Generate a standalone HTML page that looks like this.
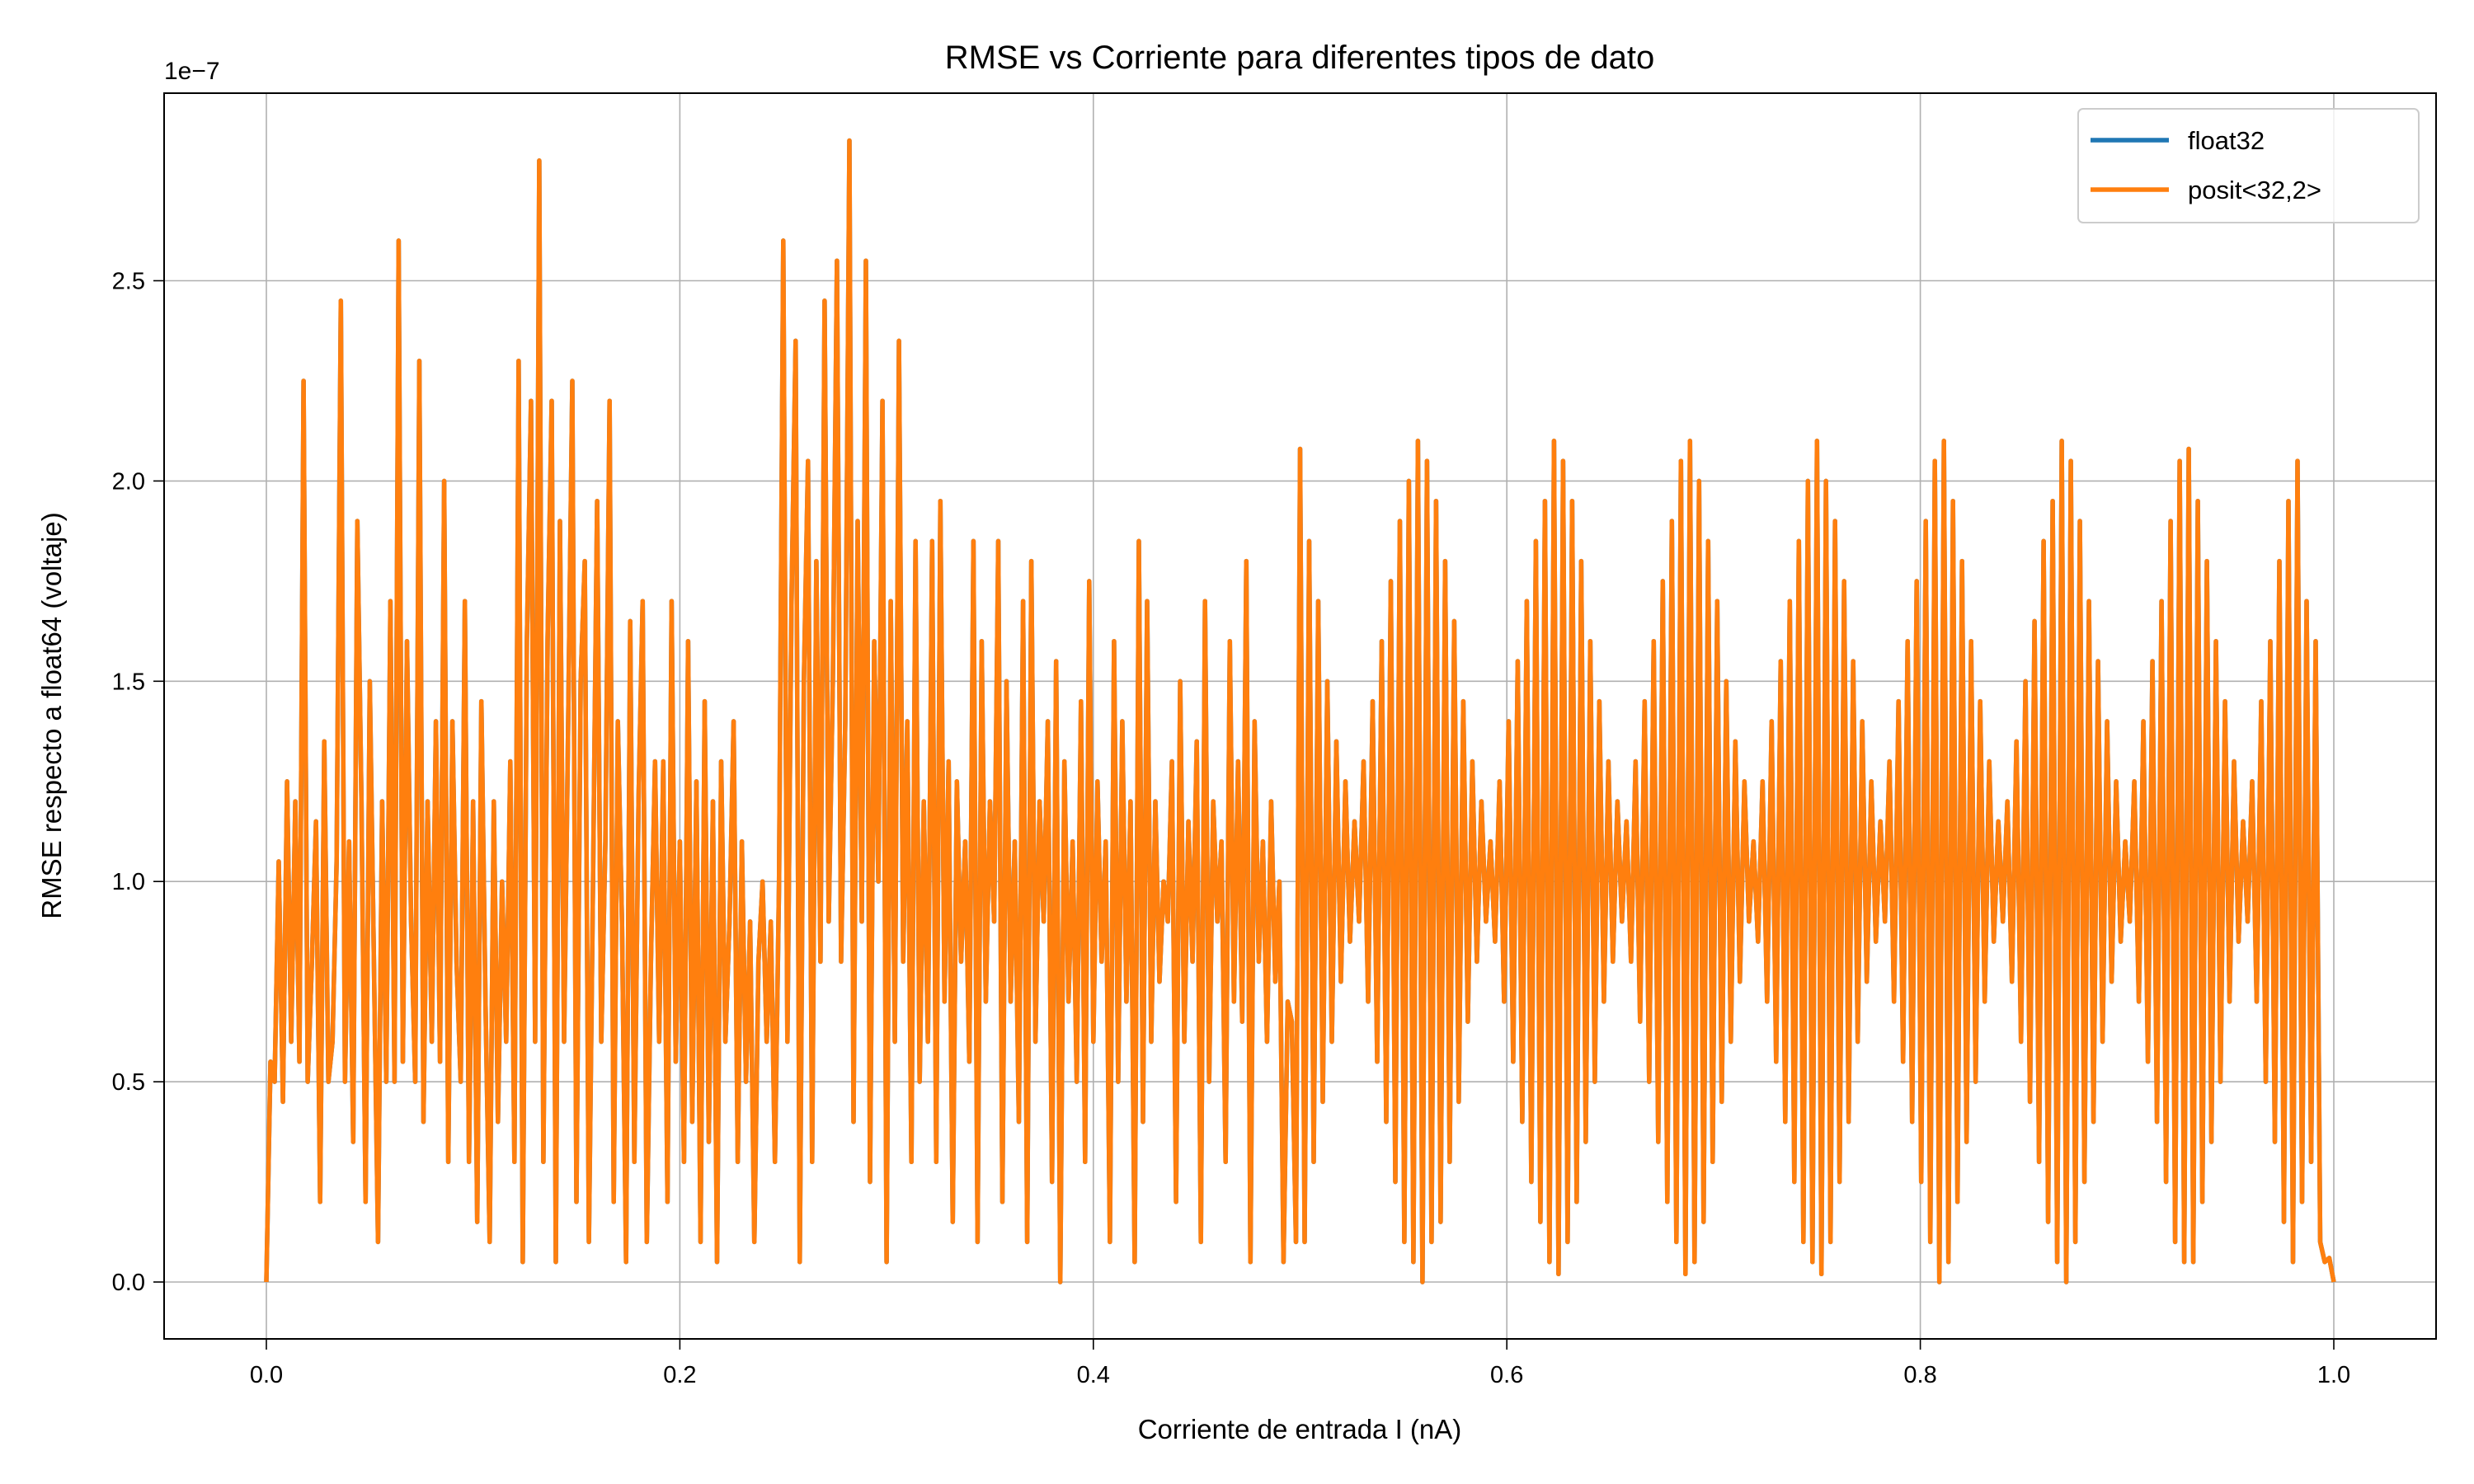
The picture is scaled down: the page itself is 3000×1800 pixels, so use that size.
<!DOCTYPE html>
<html><head><meta charset="utf-8"><style>
html,body{margin:0;padding:0;background:#fff;}
svg{display:block;font-family:"Liberation Sans","DejaVu Sans",sans-serif;}
</style></head><body>
<svg id="chart" width="3000" height="1800" viewBox="0 0 3000 1800" xmlns="http://www.w3.org/2000/svg">
<rect width="3000" height="1800" fill="#fff"/>
<g id="grid"></g>
<g id="series"></g>
<rect x="199" y="113" width="2755" height="1511" fill="none" stroke="#000" stroke-width="2"/>
<g id="ticks"></g>
<text x="1576" y="83" font-size="40" text-anchor="middle">RMSE vs Corriente para diferentes tipos de dato</text>
<text x="1576" y="1745" font-size="33" text-anchor="middle">Corriente de entrada I (nA)</text>
<text transform="translate(74,868) rotate(-90)" font-size="33" text-anchor="middle">RMSE respecto a float64 (voltaje)</text>
<text x="199" y="96" font-size="30">1e−7</text>
<g>
<rect x="2520" y="132" width="413" height="138" rx="6" fill="#fff" fill-opacity="0.8" stroke="#ccc" stroke-width="2"/>
<line x1="2535" y1="170" x2="2630" y2="170" stroke="#1f77b4" stroke-width="5.5"/>
<text x="2653" y="181" font-size="31">float32</text>
<line x1="2535" y1="230" x2="2630" y2="230" stroke="#ff7f0e" stroke-width="5.5"/>
<text x="2653" y="241" font-size="31">posit&lt;32,2&gt;</text>
</g>
</svg>
<script>
const xTicks=[0,0.2,0.4,0.6,0.8,1.0];
const xTickLabels=["0.0","0.2","0.4","0.6","0.8","1.0"];
const yTicks=[0,0.5,1.0,1.5,2.0,2.5];
const yTickLabels=["0.0","0.5","1.0","1.5","2.0","2.5"];
const rmseSeg1=[0,0.55,0.5,1.05,0.45,1.25,0.6,1.2,0.55,2.25,0.5,0.8,1.15,0.2,1.35,0.5,0.6,1.05,2.45,0.5,1.1,0.35,1.9,1.2,0.2,1.5,0.8,0.1,1.2,0.5,1.7,0.5,2.6,0.55,1.6,0.9,0.5,2.3,0.4,1.2,0.6,1.4,0.55,2.0,0.3,1.4,0.8,0.5,1.7,0.3,1.2,0.15,1.45,0.7,0.1,1.2,0.4,1.0,0.6,1.3,0.3,2.3,0.05,1.6,2.2,0.6,2.8,0.3,1.6,2.2,0.05,1.9,0.6,1.4,2.25,0.2,1.5,1.8,0.1,1.0,1.95,0.6,1.1,2.2,0.2,1.4,0.9,0.05,1.65,0.3,1.2,1.7,0.1,0.8,1.3,0.6,1.3,0.2,1.7,0.55,1.1,0.3,1.6,0.4,1.25,0.1,1.45,0.35,1.2,0.05,1.3,0.6,0.9,1.4,0.3,1.1,0.5,0.9,0.1,0.8,1.0,0.6,0.9,0.3,1.0];
const rmseSeg2=[2.6,0.6,1.7,2.35,0.05,1.5,2.05,0.3,1.8,0.8,2.45,0.9,1.5,2.55,0.8,1.4,2.85,0.4,1.9,0.9,2.55,0.25,1.6,1.0,2.2,0.05,1.7,0.6,2.35,0.8,1.4,0.3,1.85,0.5,1.2];
const rmseSeg3=[0.6,1.85,0.3,1.95,0.7,1.3,0.15,1.25,0.8,1.1,0.55,1.85,0.1,1.6,0.7,1.2,0.9,1.85,0.2,1.5,0.7,1.1,0.4,1.7,0.1,1.8,0.6,1.2,0.9,1.4,0.25,1.55,0.0,1.3,0.7,1.1,0.5,1.45,0.3,1.75,0.6,1.25,0.8,1.1,0.1,1.6,0.5,1.4,0.7,1.2,0.05,1.85,0.4,1.7,0.6,1.2,0.75,1.0,0.9,1.3,0.2,1.5,0.6,1.15,0.8,1.35,0.1,1.7,0.5,1.2,0.9,1.1,0.3,1.6,0.7,1.3,0.65,1.8,0.05,1.4,0.8,1.1,0.6,1.2,0.75,1.0,0.05,0.7,0.65,0.1];
const rmseSeg4=[2.08,0.1,1.85,0.3,1.7,0.45,1.5,0.6,1.35,0.75,1.25,0.85,1.15,0.9,1.3,0.7,1.45,0.55,1.6,0.4,1.75,0.25,1.9,0.1,2.0,0.05,2.1,0.0,2.05,0.1,
1.95,0.15,1.8,0.3,1.65,0.45,1.45,0.65,1.3,0.8,1.2,0.9,1.1,0.85,1.25,0.7,1.4,0.55,1.55,0.4,1.7,0.25,1.85,0.15,1.95,0.05,2.1,0.02,2.05,0.1,1.95,0.2,1.8,0.35,
1.6,0.5,1.45,0.7,1.3,0.8,1.2,0.9,1.15,0.8,1.3,0.65,1.45,0.5,1.6,0.35,1.75,0.2,1.9,0.1,2.05,0.02,2.1,0.05,2.0,0.15,1.85,0.3,1.7,0.45,1.5,0.6,1.35,0.75,
1.25,0.9,1.1,0.85,1.25,0.7,1.4,0.55,1.55,0.4,1.7,0.25,1.85,0.1,2.0,0.05,2.1,0.02,2.0,0.1,1.9,0.25,1.75,0.4,1.55,0.6,1.4,0.75,1.25,0.85,1.15,0.9,1.3,0.7,
1.45,0.55,1.6,0.4,1.75,0.25,1.9,0.1,2.05,0.0,2.1,0.05,1.95,0.2,1.8,0.35,1.6,0.5,1.45,0.7,1.3,0.85,1.15,0.9,1.2,0.75,1.35,0.6,1.5,0.45,1.65,0.3,1.85,0.15,
1.95,0.05,2.1,0.0,2.05,0.1,1.9,0.25,1.7,0.4,1.55,0.6,1.4,0.75,1.25,0.85,1.1,0.9,1.25,0.7,1.4,0.55,1.55,0.4,1.7,0.25,1.9,0.1,2.05,0.05,2.08,0.05,1.95,0.2,
1.8,0.35,1.6,0.5,1.45,0.7,1.3,0.85,1.15,0.9,1.25,0.7,1.45,0.5,1.6,0.35,1.8,0.15,1.95,0.05,2.05,0.2,1.7,0.3,1.6,0.1,0.05,0.06,0.0];
const rmsePosit=rmseSeg1.concat(rmseSeg2,rmseSeg3,rmseSeg4);
const rmseFloat32=rmsePosit.slice();
const NS="http://www.w3.org/2000/svg";
function X(v){return 323+(2830-323)*v;}
function Y(v){return 1555-485.8*v;}
const grid=document.getElementById('grid'),ticks=document.getElementById('ticks'),ser=document.getElementById('series');
function mk(tag,attrs,parent){const e=document.createElementNS(NS,tag);for(const k in attrs)e.setAttribute(k,attrs[k]);parent.appendChild(e);return e;}
xTicks.forEach((t,i)=>{
 const g=mk('line',{x1:X(t),x2:X(t),y1:113,y2:1624,stroke:'#b0b0b0','stroke-width':1.6},grid);
 
 
 const tk=mk('line',{x1:X(t),x2:X(t),y1:1624,y2:1637,stroke:'#000','stroke-width':1.6},ticks);
 
 
 const tl=mk('text',{x:X(t),y:1677,'font-size':29,'text-anchor':'middle'},ticks);
 tl.textContent=xTickLabels[i];
 
 
});
yTicks.forEach((t,i)=>{
 const g=mk('line',{x1:199,x2:2954,y1:Y(t),y2:Y(t),stroke:'#b0b0b0','stroke-width':1.6},grid);
 
 
 const tk=mk('line',{x1:186,x2:199,y1:Y(t),y2:Y(t),stroke:'#000','stroke-width':1.6},ticks);
 
 
 const tl=mk('text',{x:176,y:Y(t)+10,'font-size':29,'text-anchor':'end'},ticks);
 tl.textContent=yTickLabels[i];
 
 
});
// x positions: segments span fixed current ranges
const segBounds=[[0,0.25,rmseSeg1.length],[0.25,0.32,rmseSeg2.length],[0.32,0.5,rmseSeg3.length],[0.5,1.0,rmseSeg4.length]];
const currents=[];
segBounds.forEach(([a,b,n])=>{for(let i=0;i<n;i++)currents.push(a+(b-a)*i/(n-(b===1.0?1:0)));});
function path(arr){
 return arr.map((v,i)=>(i?'L':'M')+X(currents[i]).toFixed(1)+','+Y(v).toFixed(1)).join('');
}
const p1=mk('path',{d:path(rmseFloat32),fill:'none',stroke:'#1f77b4','stroke-width':5.5,'stroke-linejoin':'round'},ser);


const p2=mk('path',{d:path(rmsePosit),fill:'none',stroke:'#ff7f0e','stroke-width':5.5,'stroke-linejoin':'round'},ser);


</script>
</body></html>
